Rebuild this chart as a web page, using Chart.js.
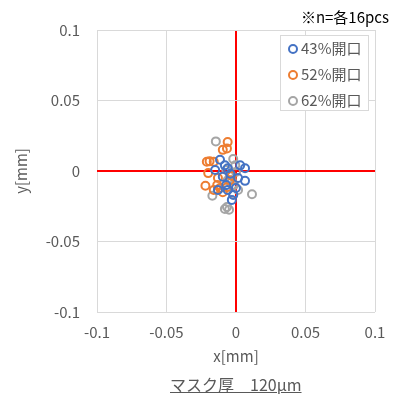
<!DOCTYPE html>
<html><head><meta charset="utf-8">
<script src="https://cdn.jsdelivr.net/npm/chart.js@4/dist/chart.umd.min.js"></script>
<style>
body{margin:0;background:#fff;font-family:"Noto Sans CJK JP","Noto Sans",sans-serif;}
#wrap{position:relative;width:394px;height:405px;}
.txt{position:absolute;color:#595959;white-space:nowrap;}
#legend{position:absolute;left:280px;top:35px;width:89px;height:76px;border:1px solid #d9d9d9;background:#fff;box-sizing:border-box;}
.li{position:absolute;left:7px;font-size:15px;color:#595959;line-height:16px;}
.mk{display:inline-block;width:6px;height:6px;border-radius:50%;border:2px solid;vertical-align:middle;margin-right:3px;position:relative;top:-1px;}
</style></head>
<body>
<div id="wrap">
<canvas id="c" width="394" height="405"></canvas>
<div class="txt" style="right:5px;top:6px;font-size:15px;color:#000;">※n=各16pcs</div>
<div id="legend"></div>
<div class="txt" style="left:170px;top:372px;font-size:16px;text-decoration:underline;">マスク厚　120μm</div>
</div>
<script>
const seriesNames = ["43%開口", "52%開口", "62%開口"];
const xTicks = [-0.1, -0.05, 0, 0.05, 0.1];
const yTicks = [-0.1, -0.05, 0, 0.05, 0.1];
const tickLabels = ["-0.1", "-0.05", "0", "0.05", "0.1"];
const s43x = [0.0065, 0.0065, -0.0115, -0.006, -0.002, -0.003, -0.0095, -0.013, -0.007, 0.0015, -0.004, 0.0, -0.015, 0.003, -0.008, -0.006];
const s43y = [0.002, -0.007, 0.008, 0.002, -0.017, -0.0205, -0.004, -0.0135, -0.010, -0.005, -0.002, -0.012, 0.0007, 0.004, 0.004, -0.0135];
const s52x = [-0.006, -0.0065, -0.0095, -0.021, -0.019, -0.016, -0.020, -0.022, -0.0135, -0.0115, -0.0095, -0.0065, -0.0045, -0.013, -0.003, -0.016];
const s52y = [0.0205, 0.016, 0.015, 0.0065, 0.007, 0.0065, -0.0015, -0.0105, -0.010, -0.012, -0.015, -0.0115, -0.0065, -0.005, -0.0035, -0.0135];
const s62x = [-0.0145, -0.002, -0.0005, -0.017, -0.0065, -0.008, -0.005, 0.0115, -0.004, -0.003, -0.0015, -0.002, -0.006, -0.007, 0.0015, 0.0];
const s62y = [0.021, 0.0085, 0.004, -0.0175, -0.0255, -0.027, -0.0275, -0.0165, -0.003, -0.0065, -0.010, -0.0165, -0.0065, 0.0007, -0.0135, -0.0007];
const colors = ["#4472C4", "#ED7D31", "#A5A5A5"];

const xs = [s43x, s52x, s62x], ys = [s43y, s52y, s62y];
const datasets = seriesNames.map((n, i) => ({
  label: n,
  data: xs[i].map((x, k) => ({x: x, y: ys[i][k]})),
  borderColor: colors[i],
  backgroundColor: 'rgba(0,0,0,0)',
  pointRadius: 4,
  pointBorderWidth: 2,
  pointHoverRadius: 4
}));

const lg = document.getElementById('legend');
seriesNames.forEach((n, i) => {
  const d = document.createElement('div');
  d.className = 'li';
  d.style.top = (4 + i * 26) + 'px';
  d.innerHTML = '<span class="mk" style="border-color:' + colors[i] + '"></span>' + n;
  lg.appendChild(d);
});

const gridColor = ctx => (ctx.tick && ctx.tick.value === 0) ? '#FF0000' : '#D9D9D9';
const gridWidth = ctx => (ctx.tick && ctx.tick.value === 0) ? 2 : 1;
const font = {family: '"Noto Sans CJK JP","Noto Sans",sans-serif', size: 15};
const fmt = (v, ticks) => { const i = ticks.findIndex(t => Math.abs(t - v) < 1e-9); return i >= 0 ? tickLabels[i] : ''; };

new Chart(document.getElementById('c'), {
  type: 'scatter',
  data: {datasets},
  options: {
    responsive: false,
    animation: false,
    events: [],
    layout: {padding: {top: 30, right: 19, bottom: 40, left: 0}},
    plugins: {legend: {display: false}, tooltip: {enabled: false}},
    scales: {
      x: {
        min: -0.1, max: 0.1,
        afterBuildTicks: s => { s.ticks = xTicks.map(v => ({value: v})); },
        afterFit: s => { s.height = 53; s.paddingRight = 0; s.paddingLeft = 0; },
        grid: {color: gridColor, lineWidth: gridWidth, drawTicks: false},
        border: {display: false},
        ticks: {color: '#595959', font, padding: 11, maxRotation: 0, callback: v => fmt(v, xTicks)},
        title: {display: true, text: 'x[mm]', color: '#595959', font, padding: {top: 1, bottom: 0}}
      },
      y: {
        min: -0.1, max: 0.1,
        afterBuildTicks: s => { s.ticks = yTicks.map(v => ({value: v})); },
        afterFit: s => { s.width = 97; s.paddingTop = 0; s.paddingBottom = 0; },
        grid: {color: gridColor, lineWidth: gridWidth, drawTicks: false},
        border: {display: false},
        ticks: {color: '#595959', font, padding: 17, callback: v => fmt(v, yTicks)},
        title: {display: true, text: 'y[mm]', color: '#595959', font, padding: {top: 12, bottom: 0}}
      }
    }
  }
});
</script>
</body></html>
